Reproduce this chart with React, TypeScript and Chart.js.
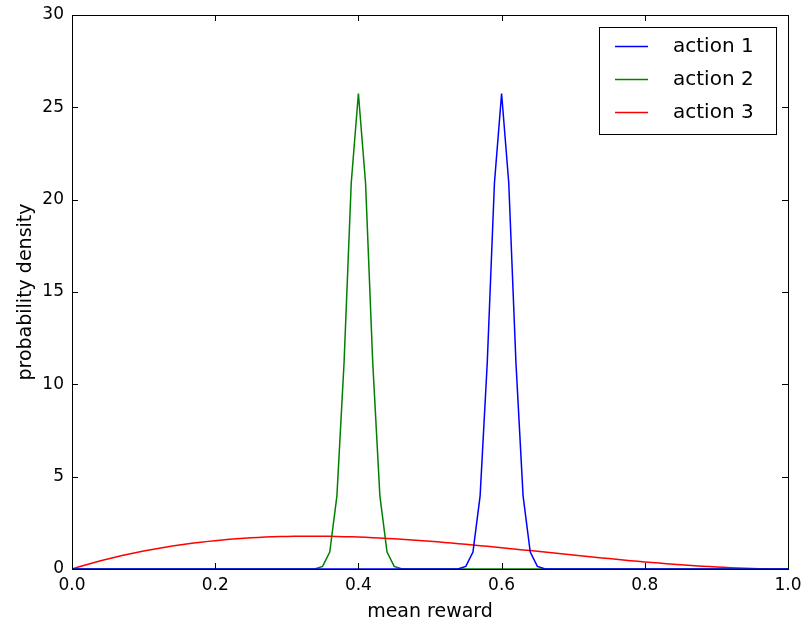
import React, { useEffect, useRef } from "react";
import { Chart, registerables } from "chart.js";

Chart.register(...registerables);

// x grid: mean reward, step 0.01 from 0.00 to 1.00
const meanReward: number[] = Array.from({ length: 101 }, (_, i) => Math.round(i) / 100);

// action 1: peaked around 0.6 (nonzero entries only, others are 0)
const action1Peak: [number, number][] = [
  [0.53, 0.0], [0.54, 0.014], [0.55, 0.14], [0.56, 0.92], [0.57, 3.96], [0.58, 11.2],
  [0.59, 20.9], [0.6, 25.75], [0.61, 20.9], [0.62, 11.2], [0.63, 3.96], [0.64, 0.92],
  [0.65, 0.14], [0.66, 0.014], [0.67, 0.0],
];
// action 2: peaked around 0.4
const action2Peak: [number, number][] = [
  [0.33, 0.0], [0.34, 0.014], [0.35, 0.14], [0.36, 0.92], [0.37, 3.96], [0.38, 11.2],
  [0.39, 20.9], [0.4, 25.75], [0.41, 20.9], [0.42, 11.2], [0.43, 3.96], [0.44, 0.92],
  [0.45, 0.14], [0.46, 0.014], [0.47, 0.0],
];
// action 3: broad density over [0, 1]
const action3Values: number[] = [
  0, 0.1176, 0.2305, 0.3387, 0.4424, 0.5415, 0.6362, 0.7265, 0.8125, 0.8943,
  0.972, 1.0456, 1.1151, 1.1808, 1.2425, 1.3005, 1.3548, 1.4054, 1.4524, 1.4959,
  1.536, 1.5727, 1.6062, 1.6364, 1.6635, 1.6875, 1.7085, 1.7266, 1.7418, 1.7543,
  1.764, 1.7711, 1.7756, 1.7776, 1.7772, 1.7745, 1.7695, 1.7622, 1.7529, 1.7414,
  1.728, 1.7127, 1.6955, 1.6765, 1.6558, 1.6335, 1.6096, 1.5843, 1.5575, 1.5294,
  1.5, 1.4694, 1.4377, 1.4049, 1.3712, 1.3365, 1.301, 1.2647, 1.2277, 1.1901,
  1.152, 1.1134, 1.0743, 1.035, 0.9953, 0.9555, 0.9156, 0.8756, 0.8356, 0.7957,
  0.756, 0.7165, 0.6774, 0.6386, 0.6003, 0.5625, 0.5253, 0.4888, 0.453, 0.4181,
  0.384, 0.3509, 0.3188, 0.2878, 0.258, 0.2295, 0.2023, 0.1764, 0.1521, 0.1292,
  0.108, 0.0885, 0.0707, 0.0547, 0.0406, 0.0285, 0.0184, 0.0105, 0.0047, 0.0012,
  0,
];

const seriesLabels = ["action 1", "action 2", "action 3"];
const seriesColors = ["#0000ff", "#008000", "#ff0000"];
const xTicks = [0, 0.2, 0.4, 0.6, 0.8, 1.0];
const yTicks = [0, 5, 10, 15, 20, 25, 30];

function fullSeries(peak: [number, number][]) {
  const map = new Map(peak.map(([x, y]) => [x.toFixed(2), y]));
  return meanReward.map((x) => ({ x, y: map.get(x.toFixed(2)) ?? 0 }));
}

const FONT = "'DejaVu Sans', sans-serif";

const framePlugin = {
  id: "frame",
  afterDatasetsDraw(chart: any) {
    const { ctx, chartArea: a, scales } = chart;
    ctx.save();
    ctx.strokeStyle = "#000";
    ctx.lineWidth = 1;
    // ticks inside on all four sides
    const tl = 6;
    ctx.beginPath();
    for (const v of xTicks) {
      const px = Math.round(scales.x.getPixelForValue(v)) + 0.5;
      ctx.moveTo(px, a.bottom);
      ctx.lineTo(px, a.bottom - tl);
      ctx.moveTo(px, a.top);
      ctx.lineTo(px, a.top + tl);
    }
    for (const v of yTicks) {
      const py = Math.round(scales.y.getPixelForValue(v)) + 0.5;
      ctx.moveTo(a.left, py);
      ctx.lineTo(a.left + tl, py);
      ctx.moveTo(a.right, py);
      ctx.lineTo(a.right - tl, py);
    }
    ctx.stroke();
    ctx.strokeRect(Math.round(a.left) + 0.5, Math.round(a.top) + 0.5, Math.round(a.right - a.left), Math.round(a.bottom - a.top));

    // legend
    const bx = 599.5, by = 27.5, bw = 177, bh = 107;
    ctx.fillStyle = "#fff";
    ctx.fillRect(bx, by, bw, bh);
    ctx.strokeRect(bx, by, bw, bh);
    ctx.font = `20px ${FONT}`;
    ctx.textBaseline = "middle";
    ctx.textAlign = "left";
    chart.data.datasets.forEach((ds: any, i: number) => {
      const y = 46 + i * 33;
      ctx.strokeStyle = ds.borderColor;
      ctx.lineWidth = 1.5;
      ctx.beginPath();
      ctx.moveTo(615, y + 0.5);
      ctx.lineTo(648, y + 0.5);
      ctx.stroke();
      ctx.fillStyle = "#000";
      ctx.fillText(ds.label, 673, y + 1);
    });
    ctx.restore();
  },
};

export default function App() {
  const ref = useRef<HTMLCanvasElement>(null);
  useEffect(() => {
    document.body.style.margin = "0";
    const chart = new Chart(ref.current!, {
      type: "line",
      data: {
        datasets: [
          { label: seriesLabels[0], data: fullSeries(action1Peak), borderColor: seriesColors[0] },
          { label: seriesLabels[1], data: fullSeries(action2Peak), borderColor: seriesColors[1] },
          {
            label: seriesLabels[2],
            data: meanReward.map((x, i) => ({ x, y: action3Values[i] })),
            borderColor: seriesColors[2],
          },
        ].map((d) => ({ ...d, borderWidth: 1.5, pointRadius: 0, tension: 0, fill: false })),
      },
      options: {
        animation: false,
        responsive: true,
        maintainAspectRatio: false,
        layout: { padding: { top: 15, right: 16, left: 0, bottom: 0 } },
        plugins: { legend: { display: false }, tooltip: { enabled: false } },
        scales: {
          x: {
            type: "linear",
            min: 0,
            max: 1,
            afterBuildTicks: (s: any) => { s.ticks = xTicks.map((v) => ({ value: v })); },
            afterFit: (s: any) => { s.height = 55; s.paddingLeft = 0; s.paddingRight = 0; },
            grid: { display: false, drawTicks: false },
            border: { display: false },
            ticks: {
              color: "#000",
              font: { family: FONT, size: 17 },
              padding: 6,
              maxRotation: 0,
              callback: (v: any) => Number(v).toFixed(1),
            },
            title: {
              display: true,
              text: "mean reward",
              color: "#000",
              font: { family: FONT, size: 19 },
              padding: { top: 0, bottom: 1 },
            },
          },
          y: {
            type: "linear",
            min: 0,
            max: 30,
            afterBuildTicks: (s: any) => { s.ticks = yTicks.map((v) => ({ value: v })); },
            afterFit: (s: any) => { s.width = 72; s.paddingTop = 0; s.paddingBottom = 0; },
            grid: { display: false, drawTicks: false },
            border: { display: false },
            ticks: {
              color: "#000",
              font: { family: FONT, size: 17 },
              padding: 8,
              callback: (v: any) => String(v),
            },
            title: {
              display: true,
              text: "probability density",
              color: "#000",
              font: { family: FONT, size: 19 },
              padding: { top: 15, bottom: 0 },
            },
          },
        },
      },
      plugins: [framePlugin],
    } as any);
    return () => chart.destroy();
  }, []);
  return (
    <div style={{ position: "absolute", left: 0, top: 0, width: 804, height: 624, background: "#fff" }}>
      <canvas ref={ref} />
    </div>
  );
}
